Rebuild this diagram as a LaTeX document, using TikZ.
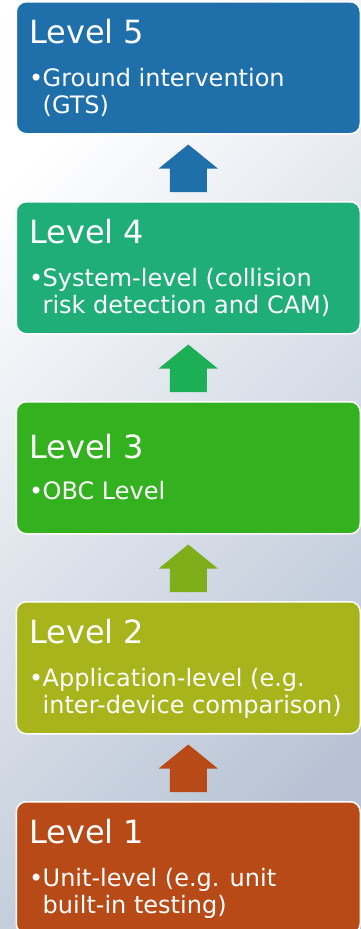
\documentclass[tikz,border=0pt]{standalone}
\usepackage{fontspec}
\setmainfont{DejaVu Sans}
\definecolor{bgend}{HTML}{B7C3D4}
\definecolor{lvfive}{HTML}{1F6FAA}
\definecolor{lvfour}{HTML}{1FAD78}
\definecolor{lvthree}{HTML}{33B11F}
\definecolor{lvtwo}{HTML}{A7B41C}
\definecolor{lvone}{HTML}{B84A18}
\definecolor{upfour}{HTML}{1DAF55}
\definecolor{upthree}{HTML}{7FAE1B}
\tikzset{
  levelbox/.style={rectangle, rounded corners=10pt, draw=white, line width=1.5pt,
    minimum width=344pt, minimum height=132pt, inner sep=0pt, anchor=north west},
  leveltitle/.style={anchor=base west, inner sep=0pt, text=white,
    font=\fontsize{32}{36}\selectfont},
  levelbody/.style={anchor=base west, inner sep=0pt, text=white,
    font=\fontsize{24}{27}\selectfont},
}
% one block arrow pointing up from the lower box to the upper box
\newcommand\uparrowbetween[3]{%
  \coordinate (#1tip) at ([yshift=-10pt]#1.south);
  \coordinate (#2foot) at ([yshift=9pt]#2.north);
  \fill[#3] (#1tip) -- ++(29.5pt,-24pt) -- ++(-11pt,0pt)
    -- ([xshift=18.5pt]#2foot) -- ([xshift=-18.5pt]#2foot)
    -- ([xshift=-18.5pt,yshift=-24pt]#1tip) -- ([xshift=-29.5pt,yshift=-24pt]#1tip) -- cycle;}
\newcommand\bulletlines[1]{\makebox[13.5pt][l]{•}\parbox[t]{310pt}{#1}}
\begin{document}
\begin{tikzpicture}[x=1pt,y=1pt]
  % page background, light at the top left, grey-blue towards the bottom right
  \shade[top color=white, bottom color=bgend, shading angle=45] (0,0) rectangle (361,-929);
  \useasboundingbox (0,0) rectangle (361,-929);

  \begin{scope}
    \clip (0,0) rectangle (361,-929);
    \node[levelbox, fill=lvfive]  (L5) at (15.5,-1)   {};
    \node[levelbox, fill=lvfour]  (L4) at (15.5,-201) {};
    \node[levelbox, fill=lvthree] (L3) at (15.5,-401) {};
    \node[levelbox, fill=lvtwo]   (L2) at (15.5,-601) {};
    \node[levelbox, fill=lvone]   (L1) at (15.5,-801) {};
  \end{scope}

  \uparrowbetween{L5}{L4}{lvfive}
  \uparrowbetween{L4}{L3}{upfour}
  \uparrowbetween{L3}{L2}{upthree}
  \uparrowbetween{L2}{L1}{lvone}

  \node[leveltitle] (T5) at ([shift={(13.5pt,-42pt)}]L5.north west) {Level 5};
  \node[levelbody]  (B5) at ([shift={(13.5pt,-85pt)}]L5.north west) {\bulletlines{Ground intervention\\(GTS)}};

  \node[leveltitle] (T4) at ([shift={(13.5pt,-42pt)}]L4.north west) {Level 4};
  \node[levelbody]  (B4) at ([shift={(13.5pt,-85pt)}]L4.north west) {\bulletlines{System-level (collision\\risk detection and CAM)}};

  \node[leveltitle] (T3) at ([shift={(13.5pt,-57pt)}]L3.north west) {Level 3};
  \node[levelbody]  (B3) at ([shift={(13.5pt,-98pt)}]L3.north west) {\bulletlines{OBC Level}};

  \node[leveltitle] (T2) at ([shift={(13.5pt,-42pt)}]L2.north west) {Level 2};
  \node[levelbody]  (B2) at ([shift={(13.5pt,-85pt)}]L2.north west) {\bulletlines{Application-level (e.g.\\inter-device comparison)}};

  \node[leveltitle] (T1) at ([shift={(13.5pt,-42pt)}]L1.north west) {Level 1};
  \node[levelbody]  (B1) at ([shift={(13.5pt,-85pt)}]L1.north west) {\bulletlines{Unit-level (e.g. unit\\built-in testing)}};
\end{tikzpicture}
\end{document}
